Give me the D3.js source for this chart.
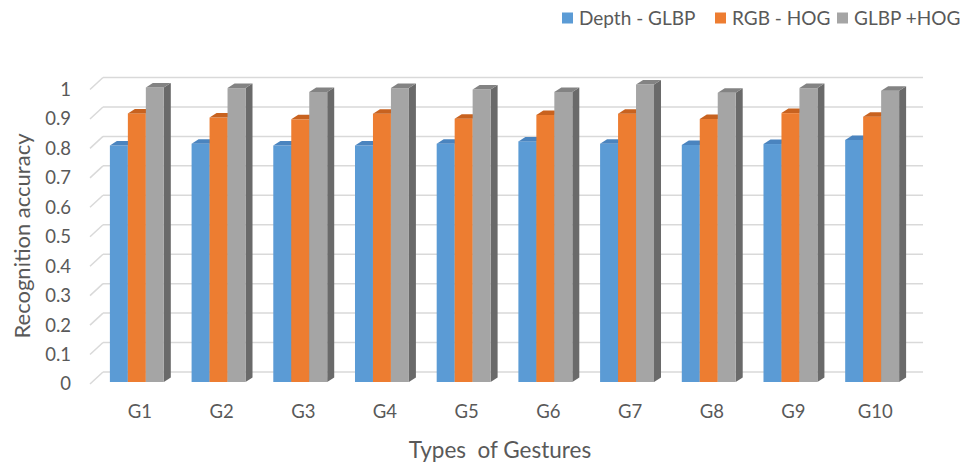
<!DOCTYPE html>
<html>
<head>
<meta charset="utf-8">
<script src="https://cdn.jsdelivr.net/npm/d3@7"></script>
<style>
  body { margin: 0; background: #fff; }
  text { font-family: Lato, "Open Sans", sans-serif; fill: #595959; }
</style>
</head>
<body>
<svg id="chart"></svg>
<script>
var gestures = ['G1', 'G2', 'G3', 'G4', 'G5', 'G6', 'G7', 'G8', 'G9', 'G10']
var depthGlbp = [0.803, 0.809, 0.803, 0.803, 0.809, 0.817, 0.809, 0.805, 0.808, 0.822]
var rgbHog = [0.912, 0.898, 0.892, 0.911, 0.894, 0.907, 0.911, 0.893, 0.913, 0.901]
var glbpHog = [1.0, 0.998, 0.985, 0.998, 0.993, 0.985, 1.01, 0.982, 0.998, 0.989]
var yTicks = [0, 0.1, 0.2, 0.3, 0.4, 0.5, 0.6, 0.7, 0.8, 0.9, 1]
var seriesNames = ['Depth - GLBP', 'RGB - HOG', 'GLBP +HOG']

var seriesValues = [depthGlbp, rgbHog, glbpHog]
var fronts = ['#5B9BD5', '#ED7D31', '#A5A5A5']
var tops = ['#4A84BF', '#C8621F', '#838383']
var sides = ['#3F6F9F', '#A9551B', '#6A6A6A']

var width = 963, height = 466
// oblique offsets: back wall and bar depth
var wallDx = 13, wallDy = -12
var barDx = 7, barDy = -4.5
var barShiftY = -2

var svg = d3.select('svg#chart')
    .attr('width', width)
    .attr('height', height)

var y = d3.scaleLinear()
    .domain([0, 1])
    .range([384, 89.5])

var x = d3.scaleBand()
    .domain(gestures)
    .range([96, 913])
    .paddingInner(0.34)
    .paddingOuter(0.17)

var xSeries = d3.scaleBand()
    .domain(d3.range(3))
    .range([0, x.bandwidth()])

// gridlines (back wall + slanted side)
var grid = svg.append('g').attr('class', 'grid')
grid.selectAll('.back')
    .data(yTicks)
    .join('line')
    .attr('x1', 90 + wallDx)
    .attr('x2', 910 + wallDx)
    .attr('y1', function(d) { return y(d) + wallDy })
    .attr('y2', function(d) { return y(d) + wallDy })
    .attr('stroke', '#D9D9D9')
    .attr('stroke-width', 1.5)
grid.selectAll('.side')
    .data(yTicks)
    .join('line')
    .attr('x1', 90)
    .attr('x2', 90 + wallDx)
    .attr('y1', function(d) { return y(d) })
    .attr('y2', function(d) { return y(d) + wallDy })
    .attr('stroke', '#D9D9D9')
    .attr('stroke-width', 1.5)

// y tick labels
svg.append('g')
    .selectAll('text')
    .data(yTicks)
    .join('text')
    .attr('x', 71)
    .attr('y', function(d) { return y(d) })
    .attr('dy', '0.35em')
    .attr('text-anchor', 'end')
    .style('font-size', '18.5px')
    .text(function(d) { return d })

// bars
var rows = []
gestures.forEach(function(g, i) {
    seriesValues.forEach(function(vals, s) {
        rows.push({ g: g, s: s, v: vals[i] })
    })
})

var bars = svg.append('g')
    .selectAll('g.bar')
    .data(rows)
    .join('g')
    .attr('class', 'bar')

bars.each(function(d) {
    var sel = d3.select(this)
    var x0 = x(d.g) + xSeries(d.s)
    var w = xSeries.bandwidth()
    var yb = y(0) + barShiftY
    var yt = y(d.v) + barShiftY
    // side face
    sel.append('polygon')
        .attr('points', [[x0 + w, yt], [x0 + w + barDx, yt + barDy], [x0 + w + barDx, yb + barDy], [x0 + w, yb]].join(' '))
        .attr('fill', sides[d.s])
    // front face
    sel.append('rect')
        .attr('x', x0)
        .attr('y', yt)
        .attr('width', w)
        .attr('height', yb - yt)
        .attr('fill', fronts[d.s])
    // top face
    sel.append('polygon')
        .attr('points', [[x0, yt], [x0 + barDx, yt + barDy], [x0 + w + barDx, yt + barDy], [x0 + w, yt]].join(' '))
        .attr('fill', tops[d.s])
})

// x labels
svg.append('g')
    .selectAll('text')
    .data(gestures)
    .join('text')
    .attr('x', function(d) { return x(d) + x.bandwidth() / 2 + 3 })
    .attr('y', 412)
    .attr('dy', '0.35em')
    .attr('text-anchor', 'middle')
    .style('font-size', '18.5px')
    .text(function(d) { return d })

// axis titles
svg.append('text')
    .attr('x', 500)
    .attr('y', 450)
    .attr('dy', '0.35em')
    .attr('text-anchor', 'middle')
    .style('font-size', '22.5px')
    .style('white-space', 'pre')
    .text('Types  of Gestures')

svg.append('text')
    .attr('transform', 'translate(22,236) rotate(-90)')
    .attr('dy', '0.35em')
    .attr('text-anchor', 'middle')
    .style('font-size', '22px')
    .text('Recognition accuracy')

// legend
var legendX = [562, 715, 837]
var legend = svg.append('g')
    .selectAll('g')
    .data(seriesNames)
    .join('g')
    .attr('transform', function(d, i) { return 'translate(' + legendX[i] + ',18)' })
legend.append('rect')
    .attr('x', 0)
    .attr('y', -5.5)
    .attr('width', 11)
    .attr('height', 11)
    .attr('fill', function(d, i) { return fronts[i] })
legend.append('text')
    .attr('x', 17)
    .attr('dy', '0.35em')
    .style('font-size', '19px')
    .text(function(d) { return d })
</script>
</body>
</html>
